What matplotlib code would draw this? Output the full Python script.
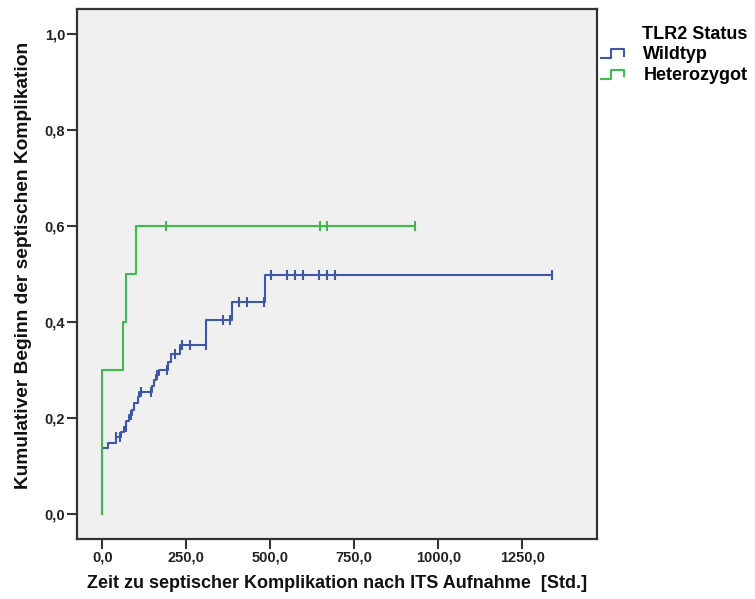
import numpy as np
import matplotlib
matplotlib.use("Agg")
import matplotlib.pyplot as plt
from matplotlib.legend_handler import HandlerBase
from matplotlib.lines import Line2D

plt.rcParams['font.family'] = ['Liberation Sans', 'DejaVu Sans']

# ---- data ----
groups = ["Wildtyp", "Heterozygot"]
legend_title = "TLR2 Status"

wild_times = [0, 18, 40, 55, 65, 72, 80, 88, 95, 105, 110, 148, 155, 160, 170, 195, 205, 232, 310, 385, 484]
wild_values = [0.137, 0.148, 0.160, 0.170, 0.181, 0.193, 0.205, 0.217, 0.230, 0.243, 0.253, 0.267, 0.278,
               0.290, 0.299, 0.316, 0.333, 0.352, 0.404, 0.442, 0.497]
wild_censored = [42, 53, 70, 87, 115, 146, 162, 192, 216, 236, 262, 309, 358, 381, 407, 430, 480,
                 501, 549, 573, 596, 646, 668, 693, 1337]

het_times = [0, 62, 71, 100]
het_values = [0.30, 0.40, 0.50, 0.60]
het_censored = [190, 648, 668, 932]

x_ticks = [0, 250, 500, 750, 1000, 1250]
x_ticklabels = ["0,0", "250,0", "500,0", "750,0", "1000,0", "1250,0"]
y_ticks = [0.0, 0.2, 0.4, 0.6, 0.8, 1.0]
y_ticklabels = ["0,0", "0,2", "0,4", "0,6", "0,8", "1,0"]

colors = ["#3f57a8", "#3dbb4c"]

fig = plt.figure(figsize=(7.55, 5.99), dpi=100)
ax = fig.add_axes([77 / 755, 1 - 539 / 599, 520 / 755, 530 / 599])
ax.set_facecolor("#f0f0f0")


def draw(times, values, cens, color):
    t = np.array([0] + list(times), dtype=float)
    v = np.array([0] + list(values), dtype=float)
    tend = max(cens[-1], t[-1])
    tt = np.append(t, tend)
    vv = np.append(v, v[-1])
    ax.step(tt, vv, where="post", color=color, lw=1.5, zorder=3)
    c = np.array(cens, dtype=float)
    idx = np.searchsorted(t, c, side="right") - 1
    ax.plot(c, v[idx], linestyle="none", marker="|", markersize=6.5, mew=1.5, color=color, zorder=4)


draw(wild_times, wild_values, wild_censored, colors[0])
draw(het_times, het_values, het_censored, colors[1])

ax.set_xlim(-75, 1472)
ax.set_ylim(-0.053, 1.053)
ax.set_xticks(x_ticks)
ax.set_xticklabels(x_ticklabels)
ax.set_yticks(y_ticks)
ax.set_yticklabels(y_ticklabels)
ax.tick_params(direction="out", length=7, width=1.5, color="#333333", labelsize=10.5)
ax.tick_params(axis="x", pad=1.5)
ax.tick_params(axis="y", pad=1.5)
for lab in ax.get_xticklabels() + ax.get_yticklabels():
    lab.set_fontweight("bold")
    lab.set_color("#222222")
for s in ax.spines.values():
    s.set_linewidth(1.6)
    s.set_color("#333333")

ax.set_xlabel("Zeit zu septischer Komplikation nach ITS Aufnahme  [Std.]", fontsize=13,
              fontweight="bold", labelpad=7, color="#111111")
ax.set_ylabel("Kumulativer Beginn der septischen Komplikation", fontsize=13.8,
              fontweight="bold", color="#111111")
ax.yaxis.set_label_coords(-0.086, 0.517)


class StepHandler(HandlerBase):
    def create_artists(self, legend, orig_handle, xdescent, ydescent, width, height, fontsize, trans):
        w, h = width, height
        xs = [0, 0.45 * w, 0.45 * w, w, w]
        ys = [0.1 * h, 0.1 * h, 0.8 * h, 0.8 * h, 0.3 * h]
        ln = Line2D(xs, ys, color=orig_handle.get_color(), lw=1.5, transform=trans)
        return [ln]


handles = [Line2D([], [], color=c) for c in colors]
leg = fig.legend(handles, groups, title=legend_title, loc="upper left",
                 bbox_to_anchor=(590 / 755, 1 - 15 / 599), frameon=False,
                 handler_map={Line2D: StepHandler()}, handlelength=1.3, handleheight=0.7,
                 handletextpad=1.05, labelspacing=0.2, borderpad=0.1,
                 prop={"weight": "bold", "size": 13})
leg.get_title().set_fontweight("bold")
leg.get_title().set_fontsize(13)
leg._legend_box.align = "right"

fig.savefig("out.png", dpi=100, facecolor="white")
